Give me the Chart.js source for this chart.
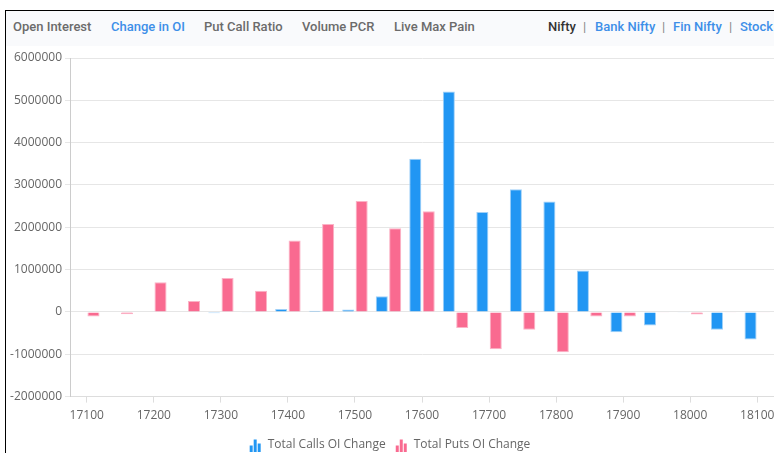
<!DOCTYPE html>
<html>
<head>
<meta charset="utf-8">
<script src="https://cdn.jsdelivr.net/npm/chart.js@4.4.1/dist/chart.umd.min.js"></script>
<style>
  html, body { margin: 0; padding: 0; width: 774px; height: 453px; overflow: hidden; background: #fff; }
  #frame { position: absolute; left: 5px; top: 10px; width: 900px; height: 600px; border-left: 1px solid #000; border-top: 1px solid #000; }
  #hdr { position: absolute; left: 0; top: 0; width: 900px; height: 35px; background: #f9fafc; font-family: Roboto, 'Open Sans', sans-serif; font-weight: 500; font-size: 13px; }
  #hdr span { position: absolute; top: 8px; white-space: nowrap; color: #6b6b6b; }
  #hdr span.act { color: #3d8fe8; }
  #hdr span.dark { color: #333; }
  #hdr span.sep { color: #888; font-weight: 400; }
  #wrap { position: absolute; left: 6px; top: 44px; width: 800px; height: 425px; }
</style>
</head>
<body>
<div id="frame">
  <div id="hdr">
    <span style="left:7px">Open Interest</span>
    <span class="act" style="left:105px">Change in OI</span>
    <span style="left:198px">Put Call Ratio</span>
    <span style="left:296px">Volume PCR</span>
    <span style="left:388px">Live Max Pain</span>
    <span class="dark" style="left:542px">Nifty</span>
    <span class="sep" style="left:577px">|</span>
    <span class="act" style="left:589px">Bank Nifty</span>
    <span class="sep" style="left:656px">|</span>
    <span class="act" style="left:667px">Fin Nifty</span>
    <span class="sep" style="left:723px">|</span>
    <span class="act" style="left:734px">Stock</span>
  </div>
</div>
<div id="wrap"><canvas id="c"></canvas></div>
<script>
const strikes = ['17100','17150','17200','17250','17300','17350','17400','17450','17500','17550','17600','17650','17700','17750','17800','17850','17900','17950','18000','18050','18100'];
const callsOIChange = [0, 0, 10000, 0, -30000, -10000, 70000, 30000, 60000, 370000, 3620000, 5210000, 2360000, 2900000, 2610000, 980000, -480000, -320000, -20000, -420000, -650000];
const putsOIChange = [-110000, -55000, 700000, 260000, 800000, 500000, 1690000, 2080000, 2620000, 1980000, 2380000, -380000, -880000, -420000, -950000, -110000, -110000, -20000, -60000, -10000, -10000];
const yTicks = { min: -2000000, max: 6000000, step: 1000000 };

function barIcon(color) {
  const cv = document.createElement('canvas');
  cv.width = 14; cv.height = 13;
  const g = cv.getContext('2d');
  g.fillStyle = color;
  g.fillRect(1, 7, 3, 6);
  g.fillRect(5, 1, 3, 12);
  g.fillRect(9, 5, 3, 8);
  return cv;
}

Chart.defaults.font.family = "'Open Sans', sans-serif";
Chart.defaults.font.size = 12;
Chart.defaults.color = '#666';

new Chart(document.getElementById('c'), {
  type: 'bar',
  data: {
    labels: strikes,
    datasets: [
      { label: 'Total Calls OI Change', data: callsOIChange, backgroundColor: '#2196f3', borderColor: '#9fd0f8', borderWidth: 1, pointStyle: barIcon('#2196f3') },
      { label: 'Total Puts OI Change', data: putsOIChange, backgroundColor: '#f96a90', borderColor: '#fbb3c6', borderWidth: 1, pointStyle: barIcon('#f96a90') }
    ]
  },
  options: {
    responsive: true,
    maintainAspectRatio: false,
    animation: false,
    layout: { padding: { top: 14, right: 32, bottom: 8, left: 0 } },
    plugins: {
      legend: { position: 'bottom', labels: { usePointStyle: true, padding: 10, color: '#666' } },
      tooltip: { enabled: false }
    },
    scales: {
      x: {
        grid: { drawOnChartArea: false, drawTicks: true, tickLength: 6, offset: false, color: '#ddd' },
        border: { color: '#ddd' },
        ticks: { maxRotation: 0, autoSkip: true, maxTicksLimit: 11, padding: 6 }
      },
      y: {
        min: yTicks.min, max: yTicks.max,
        grid: { color: '#e6e6e6', tickLength: 5 },
        border: { color: '#ccc' },
        ticks: { stepSize: yTicks.step, padding: 3, callback: v => String(v) },
        afterFit: s => { s.width = 64; }
      }
    }
  }
});
</script>
</body>
</html>
